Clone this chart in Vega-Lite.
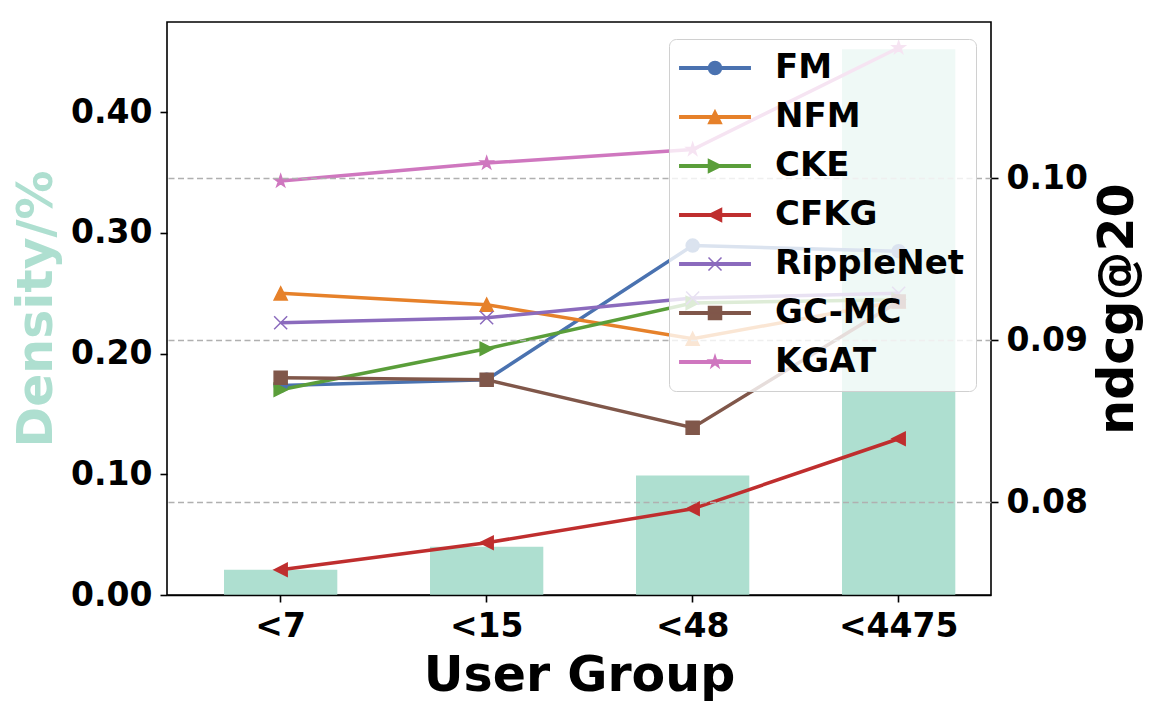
{
  "$schema": "https://vega.github.io/schema/vega-lite/v6.json",
  "autosize": {"type": "none"},
  "padding": {"left": 167, "top": 22, "right": 167, "bottom": 117},
  "width": 824,
  "height": 573,
  "background": "white",
  "config": {
    "font": "DejaVu Sans",
    "view": {"stroke": "black", "strokeWidth": 1.6},
    "axis": {
      "labelFont": "DejaVu Sans", "labelFontWeight": "bold", "labelFontSize": 33, "labelColor": "black",
      "titleFont": "DejaVu Sans", "titleFontWeight": "bold", "titleFontSize": 49, "titleColor": "black",
      "tickColor": "black", "tickWidth": 1.6, "tickSize": 7, "labelPadding": 8,
      "domain": false, "grid": false
    },
    "legend": {
      "orient": "none", "legendX": 502, "legendY": 17, "title": null, "zindex": 1,
      "labelFont": "DejaVu Sans", "labelFontWeight": "bold", "labelFontSize": 34, "labelColor": "black", "labelLimit": 0,
      "fillColor": "rgba(255,255,255,0.8)", "strokeColor": "#d0d0d0", "cornerRadius": 7,
      "padding": 12, "rowPadding": 15, "symbolSize": 170, "symbolStrokeWidth": 1.5,
      "symbolOpacity": 1, "symbolOffset": 17, "labelOffset": 43
    }
  },
  "datasets": {
    "density": [
      {"group": "<7", "density": 0.0209},
      {"group": "<15", "density": 0.0399},
      {"group": "<48", "density": 0.099},
      {"group": "<4475", "density": 0.452}
    ],
    "ndcg": [
      {"method": "FM", "group": "<7", "ndcg": 0.08721},
      {"method": "FM", "group": "<15", "ndcg": 0.08756},
      {"method": "FM", "group": "<48", "ndcg": 0.09584},
      {"method": "FM", "group": "<4475", "ndcg": 0.09549},
      {"method": "NFM", "group": "<7", "ndcg": 0.09289},
      {"method": "NFM", "group": "<15", "ndcg": 0.09219},
      {"method": "NFM", "group": "<48", "ndcg": 0.09009},
      {"method": "NFM", "group": "<4475", "ndcg": 0.0924},
      {"method": "CKE", "group": "<7", "ndcg": 0.08695},
      {"method": "CKE", "group": "<15", "ndcg": 0.08948},
      {"method": "CKE", "group": "<48", "ndcg": 0.0923},
      {"method": "CKE", "group": "<4475", "ndcg": 0.0925},
      {"method": "CFKG", "group": "<7", "ndcg": 0.07585},
      {"method": "CFKG", "group": "<15", "ndcg": 0.07752},
      {"method": "CFKG", "group": "<48", "ndcg": 0.07961},
      {"method": "CFKG", "group": "<4475", "ndcg": 0.08393},
      {"method": "RippleNet", "group": "<7", "ndcg": 0.09108},
      {"method": "RippleNet", "group": "<15", "ndcg": 0.09139},
      {"method": "RippleNet", "group": "<48", "ndcg": 0.0926},
      {"method": "RippleNet", "group": "<4475", "ndcg": 0.0929},
      {"method": "GC-MC", "group": "<7", "ndcg": 0.08769},
      {"method": "GC-MC", "group": "<15", "ndcg": 0.08756},
      {"method": "GC-MC", "group": "<48", "ndcg": 0.08461},
      {"method": "GC-MC", "group": "<4475", "ndcg": 0.09239},
      {"method": "KGAT", "group": "<7", "ndcg": 0.09981},
      {"method": "KGAT", "group": "<15", "ndcg": 0.10092},
      {"method": "KGAT", "group": "<48", "ndcg": 0.10176},
      {"method": "KGAT", "group": "<4475", "ndcg": 0.10803}
    ]
  },
  "layer": [
    {
      "data": {"name": "density"},
      "mark": {"type": "bar", "color": "#aedfd0"},
      "encoding": {
        "x": {
          "field": "group", "type": "nominal",
          "scale": {"type": "band", "domain": ["<7", "<15", "<48", "<4475"], "paddingInner": 0.45, "paddingOuter": 0.225, "align": 0.615},
          "axis": {"title": "User Group", "labelAngle": 0, "titlePadding": 8, "domain": true, "domainColor": "black", "domainWidth": 1.6, "zindex": 1}
        },
        "y": {
          "field": "density", "type": "quantitative",
          "scale": {"domain": [0, 0.4746], "nice": false},
          "axis": {"title": "Density/%", "titleColor": "#aedfd0", "values": [0, 0.1, 0.2, 0.3, 0.4], "format": ".2f", "titlePadding": 9}
        }
      }
    },
    {
      "data": {"name": "ndcg"},
      "encoding": {
        "x": {"field": "group", "type": "nominal"},
        "y": {
          "field": "ndcg", "type": "quantitative",
          "scale": {"domain": [0.074297, 0.109618], "nice": false, "zero": false},
          "axis": {
            "orient": "right", "title": "ndcg@20", "titleAngle": 270, "titleBaseline": "top", "titlePadding": 6,
            "values": [0.08, 0.09, 0.1], "format": ".2f",
            "grid": true, "gridColor": "#b0b0b0", "gridDash": [6, 3.5], "gridWidth": 1.3, "zindex": 1
          }
        }
      },
      "layer": [
        {
          "mark": {"type": "line", "strokeWidth": 3.5},
          "encoding": {
            "color": {
              "field": "method", "type": "nominal", "legend": null,
              "scale": {
                "domain": ["FM", "NFM", "CKE", "CFKG", "RippleNet", "GC-MC", "KGAT"],
                "range": ["#4a72b0", "#e6812a", "#5a9e3a", "#bf2e2e", "#8b6bbd", "#80574a", "#cf77bf"]
              }
            }
          }
        },
        {
          "mark": {"type": "point", "filled": true, "size": 170, "strokeWidth": 1.5, "opacity": 1},
          "encoding": {
            "fill": {
              "field": "method", "type": "nominal", "legend": null,
              "scale": {
                "domain": ["FM", "NFM", "CKE", "CFKG", "RippleNet", "GC-MC", "KGAT"],
                "range": ["#4a72b0", "#e6812a", "#5a9e3a", "#bf2e2e", "#8b6bbd", "#80574a", "#cf77bf"]
              }
            },
            "stroke": {
              "field": "method", "type": "nominal", "legend": null,
              "scale": {
                "domain": ["FM", "NFM", "CKE", "CFKG", "RippleNet", "GC-MC", "KGAT"],
                "range": ["#4a72b0", "#e6812a", "#5a9e3a", "#bf2e2e", "#8b6bbd", "#80574a", "#cf77bf"]
              }
            },
            "shape": {
              "field": "method", "type": "nominal", "legend": null,
              "scale": {
                "domain": ["FM", "NFM", "CKE", "CFKG", "RippleNet", "GC-MC", "KGAT"],
                "range": [
                  "M-1,0A1,1,0,1,1,1,0A1,1,0,1,1,-1,0Z",
                  "M0,-1L1,1L-1,1Z",
                  "M1,0L-1,1L-1,-1Z",
                  "M-1,0L1,-1L1,1Z",
                  "M-1,-1L1,1M-1,1L1,-1",
                  "M-1,-1H1V1H-1Z",
                  "M0,-1L0.2245,-0.309L0.9511,-0.309L0.3633,0.118L0.5878,0.809L0,0.382L-0.5878,0.809L-0.3633,0.118L-0.9511,-0.309L-0.2245,-0.309Z"
                ]
              }
            }
          }
        },
        {
          "mark": {"type": "point", "filled": true, "size": 170, "strokeWidth": 1.5, "opacity": 0},
          "encoding": {
            "fill": {
              "field": "method", "type": "nominal",
              "scale": {
                "domain": ["FM", "NFM", "CKE", "CFKG", "RippleNet", "GC-MC", "KGAT"],
                "range": ["#4a72b0", "#e6812a", "#5a9e3a", "#bf2e2e", "#8b6bbd", "#80574a", "#cf77bf"]
              },
              "legend": {"encode": {"symbols": {"update": {"opacity": {"value": 1}}}}}
            },
            "stroke": {
              "field": "method", "type": "nominal",
              "scale": {
                "domain": ["FM", "NFM", "CKE", "CFKG", "RippleNet", "GC-MC", "KGAT"],
                "range": ["#4a72b0", "#e6812a", "#5a9e3a", "#bf2e2e", "#8b6bbd", "#80574a", "#cf77bf"]
              },
              "legend": {"encode": {"symbols": {"update": {"opacity": {"value": 1}}}}}
            },
            "shape": {
              "field": "method", "type": "nominal",
              "scale": {
                "domain": ["FM", "NFM", "CKE", "CFKG", "RippleNet", "GC-MC", "KGAT"],
                "range": [
                  "M-5.4,-0.2H5.4V0.2H-5.4ZM-1,0A1,1,0,1,1,1,0A1,1,0,1,1,-1,0Z",
                  "M-5.4,-0.2H5.4V0.2H-5.4ZM0,-1L1,1L-1,1Z",
                  "M-5.4,-0.2H5.4V0.2H-5.4ZM1,0L-1,1L-1,-1Z",
                  "M-5.4,-0.2H5.4V0.2H-5.4ZM-1,0L1,-1L1,1Z",
                  "M-5.4,-0.2H5.4V0.2H-5.4ZM-1,-1L1,1M-1,1L1,-1",
                  "M-5.4,-0.2H5.4V0.2H-5.4ZM-1,-1H1V1H-1Z",
                  "M-5.4,-0.2H5.4V0.2H-5.4ZM0,-1L0.2245,-0.309L0.9511,-0.309L0.3633,0.118L0.5878,0.809L0,0.382L-0.5878,0.809L-0.3633,0.118L-0.9511,-0.309L-0.2245,-0.309Z"
                ]
              },
              "legend": {"encode": {"symbols": {"update": {"opacity": {"value": 1}}}}}
            }
          }
        }
      ],
      "resolve": {
        "scale": {"shape": "independent", "fill": "independent", "stroke": "independent"},
        "legend": {"shape": "independent", "fill": "independent", "stroke": "independent"}
      }
    }
  ],
  "resolve": {"scale": {"y": "independent"}}
}
